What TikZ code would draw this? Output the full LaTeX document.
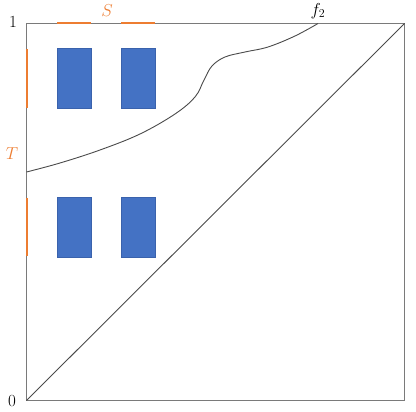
\documentclass[tikz,border=0pt]{standalone}
\usetikzlibrary{calc}
\definecolor{boxblue}{HTML}{4472C4}
\definecolor{boxedge}{HTML}{3A62AC}
\definecolor{segorange}{HTML}{ED7D31}
\definecolor{framegray}{HTML}{7A7A7A}
\definecolor{curvegray}{HTML}{4A4A4A}
\begin{document}
\begin{tikzpicture}[x=1pt,y=-1pt,
  blk/.style={draw=boxedge,line width=0.5pt,fill=boxblue,minimum width=34pt,minimum height=60pt,inner sep=0pt,outer sep=0pt},
  seg/.style={draw=segorange,line width=2pt},
  lbl/.style={inner sep=0pt,font=\fontsize{17}{20}\selectfont},
  olbl/.style={lbl,text=segorange}]
\useasboundingbox (0,0) rectangle (416,412);
\coordinate (O) at (26.5,400.5);
\coordinate (A) at (404.5,400.5);
\coordinate (B) at (404.5,23.5);
\coordinate (C) at (26.5,23.5);
% orange segments
\draw[seg] (57,23.5) -- (91,23.5);
\draw[seg] (121,23.5) -- (155,23.5);
\draw[seg] (26.5,49) -- (26.5,108);
\draw[seg] (26.5,198) -- (26.5,256);
% frame
\draw[framegray,line width=1.3pt] (O) -- (A) -- (B) -- (155,23.5);
\draw[framegray,line width=1.3pt] (121,23.5) -- (91,23.5);
\draw[framegray,line width=1.3pt] (57,23.5) -- (C) -- (26.5,49);
\draw[framegray,line width=1.3pt] (26.5,108) -- (26.5,198);
\draw[framegray,line width=1.3pt] (26.5,256) -- (O);
% diagonal
\draw[curvegray,line width=0.9pt] (O) -- (B);
% curve f2
\draw[curvegray,line width=0.9pt] plot[smooth,tension=0.6] coordinates {(26.5,172) (60,163) (100,150) (140,134) (175,114) (195,97) (204,80) (212,66) (225,57) (245,52) (268,47) (295,36) (318,23.5)};
% blocks
\node[blk] (b1) at (74,78) {};
\node[blk] (b2) at (138,78) {};
\node[blk] (b3) at (74,227) {};
\node[blk] (b4) at (138,227) {};
% labels
\node[olbl] (S) at (107,11) {$S$};
\node[olbl] (T) at (12,154) {$T$};
\node[lbl] (one) at (13,22) {1};
\node[lbl] (zero) at (12,401) {0};
\node[lbl] (onex) at (419,405) {1};
\node[lbl] (f2) at (318,11) {$f_2$};
\end{tikzpicture}
\end{document}
